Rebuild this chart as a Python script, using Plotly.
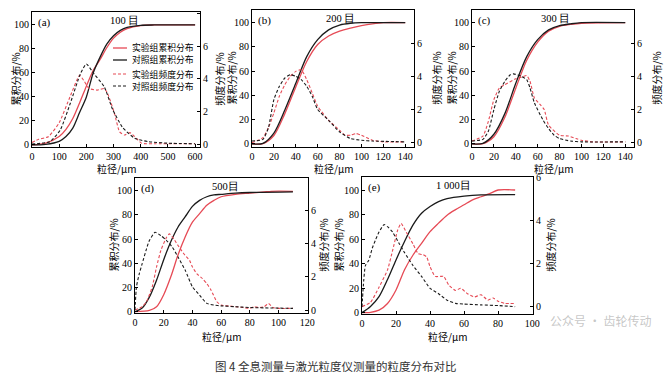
import plotly.graph_objects as go

# The page body has an 8px margin, so the figure is drawn 8px in from the window's corner.
OFF = 8
W, H = 672 - OFF, 381 - OFF
RED = "#e64a55"
BLK = "#1a1a1a"
SERIF = "Liberation Serif"
CJK = "Noto Sans CJK SC"


def px(xp):
    return (xp - OFF) / W


def py(yp):
    return 1 - (yp - OFF) / H


# ---------------- data ----------------
# (a) 100 目
a_cum_x = [0, 50, 100, 125, 150, 175, 200, 225, 250, 275, 300, 325, 350, 400, 450, 600]
a_red_cum = [0, 1.5, 7, 13, 22, 35, 49, 62, 71, 81, 89, 94, 97, 99.5, 100, 100]
a_blk_cum = [0, 0.5, 3, 7, 14, 27, 40, 60, 73, 84, 91, 95.5, 98, 99.7, 100, 100]
a_red_freq_x = [0, 25, 60, 100, 140, 175, 190, 210, 240, 266, 278, 303, 322, 340, 360, 378, 403, 450, 600]
a_red_freq = [0.1, 0.3, 0.45, 1.3, 2.9, 4.2, 3.9, 3.4, 3.3, 3.4, 3.1, 1.9, 0.75, 0.55, 0.7, 0.45, 0.05, 0.02, 0.02]
a_blk_freq_x = [0, 66, 104, 141, 178, 200, 228, 266, 297, 334, 378, 428, 503, 600]
a_blk_freq = [0, 0.15, 0.86, 2.5, 4.3, 4.9, 4.3, 3.5, 2.1, 1.0, 0.35, 0.15, 0.05, 0.02]

# (b) 200 目
b_cum_x = [0, 10, 20, 30, 40, 50, 60, 70, 80, 90, 100, 110, 120, 140]
b_blk_cum = [0, 0.5, 9, 28, 50, 72, 86, 94, 98, 99.5, 100, 100, 100, 100]
b_red_cum = [0, 0.3, 7, 25, 47, 68, 82, 89, 93, 95.5, 97.5, 99, 100, 100]
b_blk_freq_x = [0, 10, 15, 20, 25, 30, 35, 40, 45, 50, 55, 60, 70, 80, 90, 100, 110, 140]
b_blk_freq = [0.1, 0.2, 0.9, 2.6, 3.4, 3.9, 4.1, 4.0, 3.8, 3.4, 2.8, 2.0, 1.35, 0.65, 0.25, 0.15, 0.1, 0.05]
b_red_freq_x = [0, 10, 15, 20, 25, 30, 35, 40, 45, 50, 55, 60, 70, 80, 85, 90, 95, 100, 110, 120, 140]
b_red_freq = [0, 0.3, 0.9, 1.8, 2.8, 3.5, 4.0, 4.3, 4.4, 3.8, 3.0, 2.2, 1.35, 0.75, 0.45, 0.45, 0.55, 0.45, 0.15, 0.05, 0.05]

# (c) 300 目
c_cum_x = [0, 10, 20, 30, 40, 50, 60, 70, 80, 90, 100, 140]
c_blk_cum = [0, 0.5, 8, 25, 50, 72, 86, 94, 97.5, 99, 100, 100]
c_red_cum = [0, 0.3, 6, 22, 46, 69, 84, 93, 97, 98.5, 99.5, 100]
c_blk_freq_x = [0, 10, 15, 20, 25, 30, 35, 38, 45, 50, 53, 57, 65, 70, 75, 80, 90, 100, 140]
c_blk_freq = [0.1, 0.2, 0.7, 2.0, 3.1, 3.7, 4.1, 4.15, 4.0, 3.8, 3.3, 2.4, 1.35, 0.85, 0.45, 0.25, 0.1, 0.05, 0.05]
c_red_freq_x = [0, 10, 15, 20, 25, 30, 40, 45, 50, 53, 57, 63, 66, 70, 80, 88, 95, 100, 110, 140]
c_red_freq = [0.1, 0.4, 1.3, 2.6, 3.3, 3.5, 3.85, 3.95, 4.05, 3.7, 2.7, 2.25, 2.0, 1.05, 0.45, 0.4, 0.25, 0.15, 0.05, 0.05]

# (d) 500目
d_blk_cum_x = [0, 5, 10, 15, 20, 25, 30, 35, 40, 45, 50, 55, 60, 70, 80, 110]
d_blk_cum = [0, 3, 12, 26, 43, 58, 70, 78.5, 87, 92, 95, 96.5, 97, 98, 98.5, 99]
d_red_cum_x = [0, 10, 15, 20, 25, 30, 35, 40, 45, 50, 55, 60, 70, 80, 90, 95, 110]
d_red_cum = [0, 1, 4, 14, 29, 47, 62, 74, 81, 88, 92, 95, 97, 98, 99, 99.5, 99.5]
d_blk_freq_x = [0, 1, 3, 5, 8, 10, 14, 18, 22, 26, 30, 35, 40, 45, 50, 55, 60, 70, 80, 110]
d_blk_freq = [0, 1.4, 2.2, 2.8, 3.7, 4.2, 4.7, 4.5, 4.2, 3.8, 3.2, 2.4, 1.4, 0.9, 0.4, 0.3, 0.25, 0.2, 0.15, 0.1]
d_red_freq_x = [0, 5, 8, 12, 15, 18, 22, 24, 27, 30, 34, 38, 40, 43, 47, 50, 53, 57, 60, 65,
                70, 75, 80, 83, 86, 90, 93, 96, 100, 110]
d_red_freq = [0, 0.2, 0.5, 1.4, 2.6, 3.6, 4.4, 4.6, 4.3, 3.9, 3.4, 3.0, 2.6, 2.2, 1.9, 1.6, 1.2, 0.5, 0.3, 0.25,
              0.2, 0.15, 0.1, 0.2, 0.15, 0.2, 0.4, 0.15, 0.1, 0.1]

# (e) 1 000目
e_blk_cum_x = [0, 5, 10, 15, 20, 25, 30, 35, 40, 45, 50, 60, 70, 90]
e_blk_cum = [0, 5, 13, 27, 43, 58, 71.5, 81, 86.5, 90.5, 93, 95, 96, 96.2]
e_red_cum_x = [0, 5, 10, 15, 20, 25, 30, 35, 40, 45, 50, 55, 60, 65, 70, 75, 80, 90]
e_red_cum = [0, 0.3, 2, 7.5, 18.5, 35, 47, 56.5, 66, 73, 79.5, 84, 88, 92, 94.5, 97, 100, 100]
e_blk_freq_x = [0, 1, 2, 4, 6, 8, 10, 13, 15, 18, 22, 25, 30, 35, 40, 45, 50, 55, 60, 70, 80, 90]
e_blk_freq = [0, 1.2, 1.9, 2.15, 2.7, 3.1, 3.45, 3.8, 3.7, 3.45, 2.9, 2.5, 1.9, 1.4, 0.85, 0.6, 0.3, 0.15, 0.12, 0.08, 0.05, 0.0]
e_red_freq_x = [0, 5, 10, 15, 18, 21, 23, 26, 30, 33, 36, 38, 40, 43, 46, 48, 51, 55, 58, 62, 66, 70, 74, 77, 80, 84, 90]
e_red_freq = [0, 0.2, 0.9, 1.7, 2.6, 3.55, 3.85, 3.45, 2.9, 2.45, 2.4, 2.3, 1.85, 1.4, 1.4, 1.4, 1.0, 0.75, 0.85, 0.6,
              0.45, 0.55, 0.3, 0.4, 0.25, 0.15, 0.15]

LEGEND_NAMES = ["实验组累积分布", "对照组累积分布", "实验组频度分布", "对照组频度分布"]
PANEL_LABELS = ["(a)", "(b)", "(c)", "(d)", "(e)"]
MESH_LABELS = ["100 目", "200 目", "300 目", "500目", "1 000目"]
X_TITLE = "粒径/μm"
LEFT_TITLE = "累积分布/%"
RIGHT_TITLE = "频度分布/%"
X_TICKS = [[0, 100, 200, 300, 400, 500, 600], list(range(0, 141, 20)), list(range(0, 141, 20)),
           list(range(0, 121, 20)), list(range(0, 101, 20))]
LEFT_TICKS = [0, 20, 40, 60, 80, 100]
RIGHT_TICKS = [[0, 2, 4, 6, 8]] * 4 + [[0, 2, 4, 6]]

panels = [
    dict(rc=(a_cum_x, a_red_cum), bc=(a_cum_x, a_blk_cum), rf=(a_red_freq_x, a_red_freq), bf=(a_blk_freq_x, a_blk_freq)),
    dict(rc=(b_cum_x, b_red_cum), bc=(b_cum_x, b_blk_cum), rf=(b_red_freq_x, b_red_freq), bf=(b_blk_freq_x, b_blk_freq)),
    dict(rc=(c_cum_x, c_red_cum), bc=(c_cum_x, c_blk_cum), rf=(c_red_freq_x, c_red_freq), bf=(c_blk_freq_x, c_blk_freq)),
    dict(rc=(d_red_cum_x, d_red_cum), bc=(d_blk_cum_x, d_blk_cum), rf=(d_red_freq_x, d_red_freq), bf=(d_blk_freq_x, d_blk_freq)),
    dict(rc=(e_red_cum_x, e_red_cum), bc=(e_blk_cum_x, e_blk_cum), rf=(e_red_freq_x, e_red_freq), bf=(e_blk_freq_x, e_blk_freq)),
]

# layout geometry in window pixels: (left, right, top, bottom)
boxes = [(32, 200, 12, 147), (252, 414, 10, 147), (472, 634, 10, 147), (135, 308, 178, 313), (362, 533, 177, 314)]
left_title_x = [15, 231, 451, 113, 338]
right_title_x = [219, 436, 656, 323, 550]
x_title_y = [168, 168, 168, 336, 336]
x_ranges = [[0, 618], [0, 148], [0, 148], [0, 120.5], [0, 100.5]]
left_ranges = [[-1.7, 110.8], [-2.5, 110.4], [-2.5, 110.4], [-1.1, 110.5], [-1.1, 110.6]]
right_ranges = [[-0.18, 8.08], [-0.26, 8.0], [-0.26, 8.0], [-0.18, 7.98], [-0.34, 6.0]]

STYLES = [dict(color=RED, width=1.3), dict(color=BLK, width=1.3),
          dict(color=RED, width=1.1, dash="3px,2px"), dict(color=BLK, width=1.1, dash="3px,2px")]

fig = go.Figure()
layout = {}
annotations = []
shapes = []

tickfont = dict(family=SERIF, size=10, color="black")
axis_common = dict(showline=True, linecolor="black", linewidth=1, ticks="inside", ticklen=3,
                   tickcolor="black", showgrid=False, zeroline=False, tickfont=tickfont, automargin=False)
title_font = dict(family=CJK, size=10, color="black")

for i, p in enumerate(panels):
    xn = "x" if i == 0 else f"x{i+1}"
    yl = 2 * i + 1
    yr = 2 * i + 2
    yln = "y" if yl == 1 else f"y{yl}"
    yrn = f"y{yr}"
    for k, (key, yax, smooth) in enumerate([("rc", yln, 0.8), ("bc", yln, 0.8), ("rf", yrn, 0.5), ("bf", yrn, 0.5)]):
        fig.add_trace(go.Scatter(x=p[key][0], y=p[key][1], xaxis=xn, yaxis=yax, mode="lines",
                                 line=dict(STYLES[k], shape="spline", smoothing=smooth),
                                 name=LEGEND_NAMES[k], showlegend=False))

    l, r, t, b = boxes[i]
    xdom = [px(l), px(r)]
    ydom = [py(b), py(t)]
    xkey = "xaxis" if i == 0 else f"xaxis{i+1}"
    ylkey = "yaxis" if yl == 1 else f"yaxis{yl}"
    yrkey = f"yaxis{yr}"
    layout[xkey] = dict(axis_common, domain=xdom, range=x_ranges[i], anchor=yln, mirror=True,
                        tickvals=X_TICKS[i])
    layout[ylkey] = dict(axis_common, domain=ydom, range=left_ranges[i], anchor=xn, tickvals=LEFT_TICKS)
    layout[yrkey] = dict(axis_common, domain=ydom, range=right_ranges[i], anchor=xn, overlaying=yln,
                         side="right", tickvals=RIGHT_TICKS[i])

    ymid = (t + b) / 2
    for tx, txt in ((left_title_x[i], LEFT_TITLE), (right_title_x[i], RIGHT_TITLE)):
        annotations.append(dict(text=txt, x=px(tx), y=py(ymid), xref="paper", yref="paper",
                                xanchor="center", yanchor="middle", textangle=-90, showarrow=False,
                                borderpad=0, font=title_font))
    annotations.append(dict(text=X_TITLE, x=px((l + r) / 2), y=py(x_title_y[i]), xref="paper", yref="paper",
                            xanchor="center", yanchor="middle", showarrow=False, borderpad=0, font=title_font))

    annotations.append(dict(text=PANEL_LABELS[i], x=px(l + 4), y=py(t + 10), xref="paper", yref="paper",
                            xanchor="left", yanchor="middle", showarrow=False,
                            font=dict(family=SERIF, size=11, color="black")))
    mesh_x = [124, 340, 555, 225, 453][i]
    annotations.append(dict(text=MESH_LABELS[i], x=px(mesh_x), y=py(t + 8), xref="paper", yref="paper",
                            xanchor="center", yanchor="middle", showarrow=False,
                            font=dict(family=SERIF, size=10.5, color="black")))

# legend of panel (a), drawn as line samples + labels inside the plot box
legend_rows = [48, 60, 74, 86]
for k, yrow in enumerate(legend_rows):
    st = STYLES[k]
    shapes.append(dict(type="line", xref="paper", yref="paper", x0=px(113), x1=px(127),
                       y0=py(yrow), y1=py(yrow),
                       line=dict(color=st["color"], width=st["width"], dash=st.get("dash", "solid"))))
    annotations.append(dict(text=LEGEND_NAMES[k], x=px(131), y=py(yrow), xref="paper", yref="paper",
                            xanchor="left", yanchor="middle", showarrow=False, borderpad=0,
                            font=dict(family=SERIF + ", " + CJK, size=8.8, color="black")))

annotations.append(dict(text="图 4 全息测量与激光粒度仪测量的粒度分布对比", x=px(336), y=py(366),
                        xref="paper", yref="paper", xanchor="center", yanchor="middle", showarrow=False,
                        font=dict(family=CJK, size=11.5, color="#333333")))
annotations.append(dict(text="公众号 · 齿轮传动", x=px(600), y=py(320),
                        xref="paper", yref="paper", xanchor="center", yanchor="middle", showarrow=False,
                        font=dict(family=CJK, size=12, color="rgba(150,150,150,0.55)")))

fig.update_layout(
    width=W, height=H,
    margin=dict(l=0, r=0, t=0, b=0),
    paper_bgcolor="white", plot_bgcolor="white",
    annotations=annotations,
    shapes=shapes,
    showlegend=False,
    **layout,
)

fig.write_html("out.html")
